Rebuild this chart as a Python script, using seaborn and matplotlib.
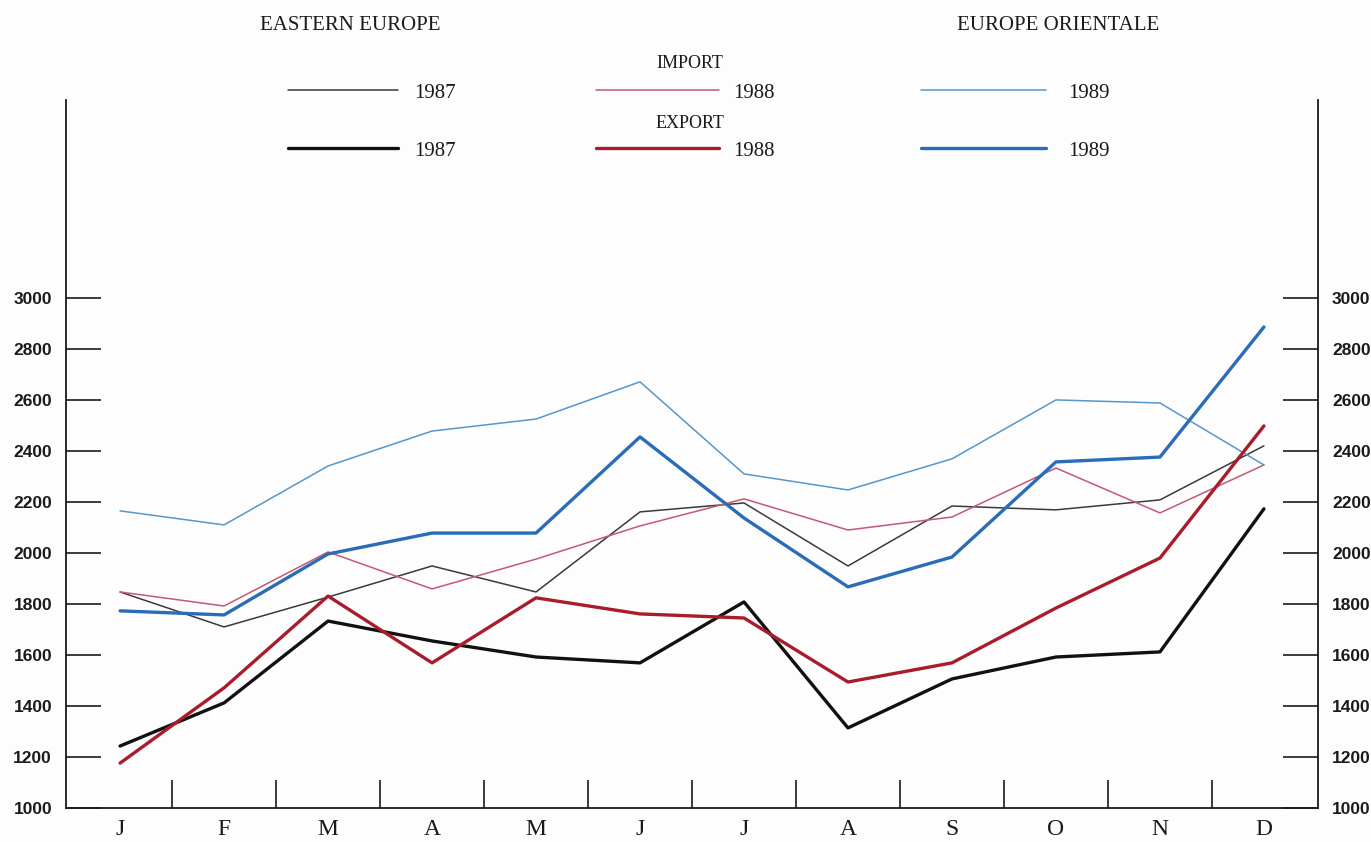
import matplotlib
matplotlib.use("Agg")
import matplotlib.pyplot as plt
from matplotlib.lines import Line2D
import seaborn as sns
import pandas as pd

months = ["J", "F", "M", "A", "M", "J", "J", "A", "S", "O", "N", "D"]
import_1987 = [1847, 1710, 1827, 1949, 1847, 2161, 2196, 1949, 2184, 2169, 2208, 2420]
import_1988 = [1847, 1792, 2004, 1859, 1976, 2106, 2212, 2090, 2141, 2333, 2157, 2345]
import_1989 = [2165, 2110, 2341, 2478, 2525, 2671, 2310, 2247, 2369, 2600, 2588, 2345]
export_1987 = [1243, 1412, 1733, 1655, 1592, 1569, 1808, 1314, 1506, 1592, 1612, 2173]
export_1988 = [1176, 1471, 1831, 1569, 1824, 1761, 1745, 1494, 1569, 1784, 1980, 2498]
export_1989 = [1773, 1757, 1996, 2078, 2078, 2455, 2137, 1867, 1984, 2357, 2376, 2886]
y_ticks = [1000, 1200, 1400, 1600, 1800, 2000, 2200, 2400, 2600, 2800, 3000]

sns.set_theme(style="white")
plt.rcParams["font.family"] = ["Liberation Sans", "DejaVu Sans"]

fig = plt.figure(figsize=(13.71, 8.42), dpi=100)
fig.patch.set_facecolor("#fdfdfd")
ax = fig.add_axes([66 / 1371, 1 - 808 / 842, (1318 - 66) / 1371, (808 - 100) / 842])
ax.set_facecolor("#fdfdfd")

series = [
    ("IMPORT", "1987", import_1987, "#3a3a3a", 1.1),
    ("IMPORT", "1988", import_1988, "#c25a72", 1.1),
    ("IMPORT", "1989", import_1989, "#5596cc", 1.1),
    ("EXPORT", "1987", export_1987, "#111111", 2.4),
    ("EXPORT", "1988", export_1988, "#a81c2c", 2.4),
    ("EXPORT", "1989", export_1989, "#2a6cb8", 2.4),
]
x_idx = list(range(len(months)))
for kind, year, vals, color, lw in series:
    df = pd.DataFrame({"x": x_idx, "y": vals})
    sns.lineplot(data=df, x="x", y="y", ax=ax, color=color, linewidth=lw,
                 sort=False, legend=False)

ax.set_xlim(-0.52, 11.52)
ax.set_ylim(1000, 3776)
ax.set_xlabel("")
ax.set_ylabel("")

for side in ["top"]:
    ax.spines[side].set_visible(False)
for side in ["left", "right", "bottom"]:
    ax.spines[side].set_visible(True)
    ax.spines[side].set_color("#1a1a1a")
    ax.spines[side].set_linewidth(1.3)

# y ticks left and right, inward
ax.set_yticks(y_ticks)
ax.set_yticklabels([str(v) for v in y_ticks])
ax.tick_params(axis="y", which="major", direction="in", length=25, width=1.2,
               color="#1a1a1a", left=True, right=True, labelleft=True,
               labelright=True, labelsize=12.5, pad=10)
for lab in ax.get_yticklabels():
    lab.set_fontweight("bold")
    lab.set_color("#1a1a1a")

# x: boundary ticks (major) and month labels (minor)
ax.set_xticks([i + 0.5 for i in range(11)])
ax.set_xticklabels([""] * 11)
ax.set_xticks(x_idx, minor=True)
ax.set_xticklabels(months, minor=True, fontfamily="Liberation Serif", fontsize=17)
ax.tick_params(axis="x", which="major", direction="in", length=20, width=1.2,
               color="#1a1a1a", bottom=True)
ax.tick_params(axis="x", which="minor", length=0, pad=8, labelcolor="#1a1a1a")

# titles
fig.text(350 / 1371, 1 - 25 / 842, "EASTERN EUROPE", ha="center", va="center",
         fontfamily="Liberation Serif", fontsize=15, color="#1a1a1a")
fig.text(1058 / 1371, 1 - 25 / 842, "EUROPE ORIENTALE", ha="center", va="center",
         fontfamily="Liberation Serif", fontsize=15, color="#1a1a1a")
fig.text(690 / 1371, 1 - 64 / 842, "IMPORT", ha="center", va="center",
         fontfamily="Liberation Serif", fontsize=13, color="#1a1a1a")
fig.text(690 / 1371, 1 - 124 / 842, "EXPORT", ha="center", va="center",
         fontfamily="Liberation Serif", fontsize=13, color="#1a1a1a")

# legend handles
legend_cols = [(288, 398, 414), (596, 719, 733), (921, 1046, 1068)]
rows = {"IMPORT": 90, "EXPORT": 148}
for i, (kind, year, vals, color, lw) in enumerate(series):
    col = legend_cols[i % 3]
    y = 1 - rows[kind] / 842
    fig.add_artist(Line2D([col[0] / 1371, col[1] / 1371], [y, y], color=color,
                          linewidth=lw, transform=fig.transFigure))
    fig.text(col[2] / 1371, y - 0.004, year, ha="left", va="center",
             fontfamily="Liberation Serif", fontsize=15, color="#1a1a1a")

fig.savefig("out.png", dpi=100, facecolor=fig.get_facecolor())
